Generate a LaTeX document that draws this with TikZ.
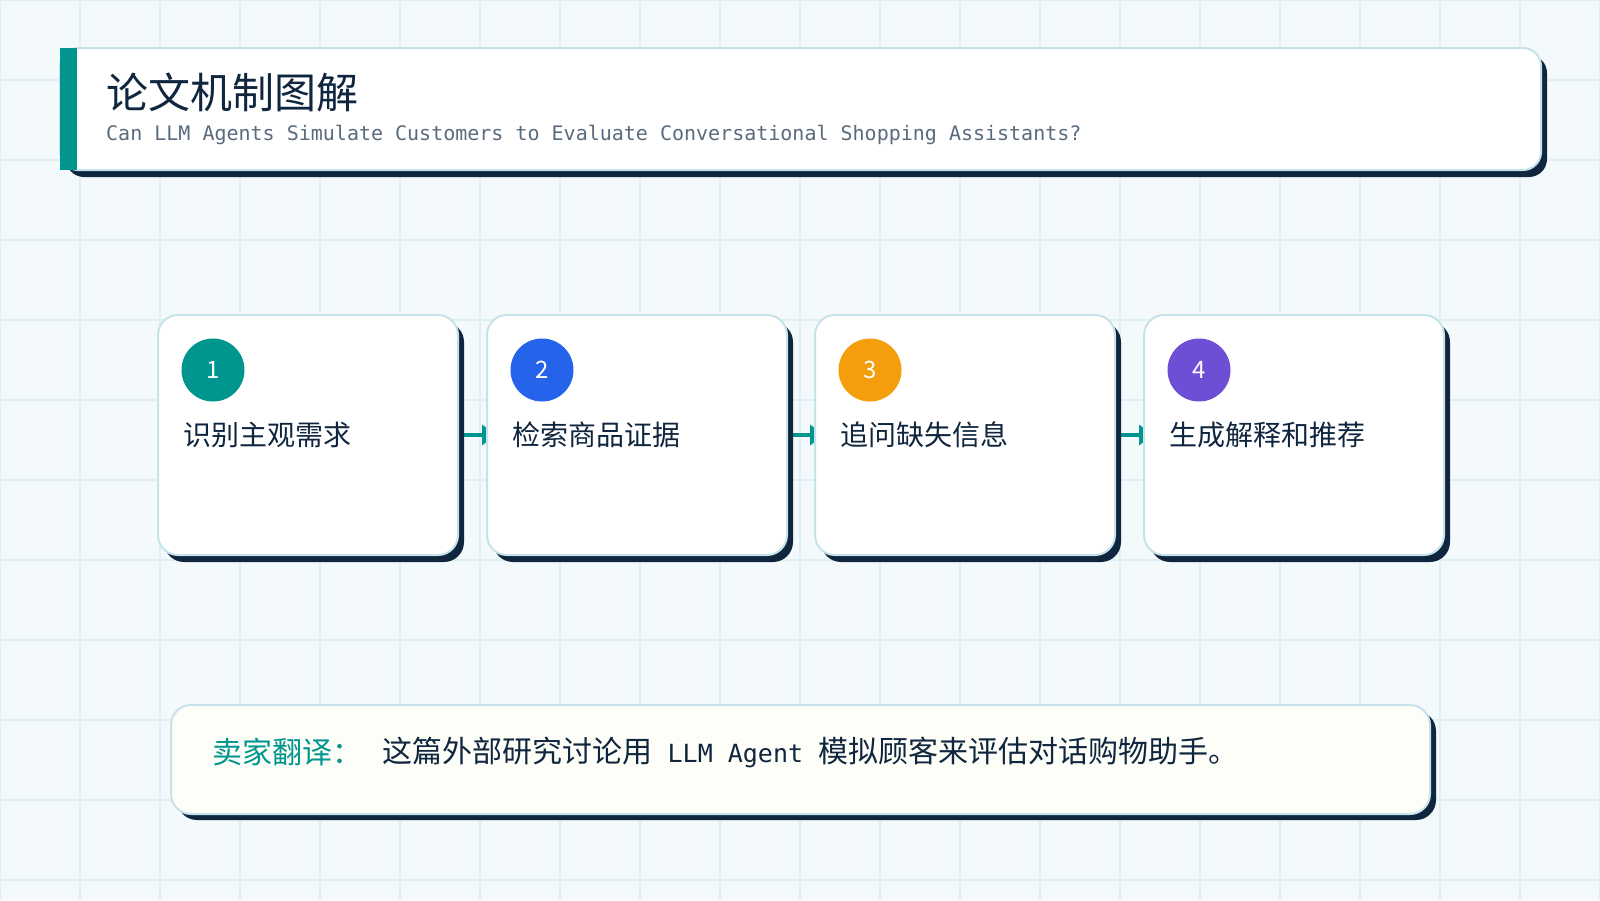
\documentclass[tikz,border=0pt]{standalone}
\usepackage{fontspec}
\setmainfont{Noto Sans CJK SC}
\newfontfamily\monofont{DejaVu Sans Mono}
\usetikzlibrary{arrows.meta, positioning, shadows, backgrounds}
\definecolor{pgbg}{HTML}{F4F9FC}
\definecolor{pggrid}{HTML}{DFF0F4}
\definecolor{pgteal}{HTML}{00968F}
\definecolor{pgnavy}{HTML}{10263F}
\definecolor{pgborder}{HTML}{C6E3EA}
\definecolor{pggray}{HTML}{5A6B7E}
\definecolor{pgblue}{HTML}{2563EB}
\definecolor{pgorange}{HTML}{F59E0B}
\definecolor{pgpurple}{HTML}{6D4FD6}
\definecolor{pgcream}{HTML}{FDFEF7}

\begin{document}
\begin{tikzpicture}[x=1pt, y=-1pt,
  headbox/.style={rectangle, draw=pgborder, line width=2pt, fill=white, rounded corners=18pt, minimum width=1481pt, minimum height=122pt, drop shadow={shadow xshift=6pt, shadow yshift=-7pt, fill=pgnavy, opacity=1}},
  card/.style={rectangle, draw=pgborder, line width=2pt, fill=white, rounded corners=20pt, minimum width=300pt, minimum height=240pt, drop shadow={shadow xshift=6pt, shadow yshift=-7pt, fill=pgnavy, opacity=1}},
  notebox/.style={rectangle, draw=pgborder, line width=2pt, fill=pgcream, rounded corners=20pt, minimum width=1259pt, minimum height=109pt, drop shadow={shadow xshift=6pt, shadow yshift=-6pt, fill=pgnavy, opacity=1}},
  numdot/.style={circle, minimum size=63pt, inner sep=0pt, text=white, font=\fontsize{24}{28}\selectfont},
  steptext/.style={anchor=west, inner sep=0pt, text=pgnavy, font=\fontsize{28}{32}\selectfont},
  conn/.style={-{Triangle[length=14pt,width=20pt]}, line width=4pt, pgteal, shorten >=-10pt},
]
  \useasboundingbox (0,0) rectangle (1600,900);

  % Background grid
  \begin{scope}[on background layer]
    \fill[pgbg] (0,0) rectangle (1600,900);
    \draw[pggrid, line width=1.5pt] (0,0) grid[step=80pt] (1600,900);
  \end{scope}

  % Header
  \node[headbox] (head) at (800.5,109) {};
  \fill[pgteal] (60,48) rectangle (77,170);
  \node[anchor=west, inner sep=0pt, text=pgnavy, font=\fontsize{42}{48}\selectfont] (title) at (106,92) {论文机制图解};
  \node[anchor=west, inner sep=0pt, text=pggray, font=\monofont\fontsize{20}{24}\selectfont] (subtitle) at (106,135) {Can LLM Agents Simulate Customers to Evaluate Conversational Shopping Assistants?};

  % Steps
  \node[card] (card1) at (308,435) {};
  \node[card] (card2) at (637,435) {};
  \node[card] (card3) at (965,435) {};
  \node[card] (card4) at (1294,435) {};

  \node[numdot, fill=pgteal] (num1) at (213,370) {1};
  \node[numdot, fill=pgblue] (num2) at (542,370) {2};
  \node[numdot, fill=pgorange] (num3) at (870,370) {3};
  \node[numdot, fill=pgpurple] (num4) at (1199,370) {4};

  \node[steptext] (txt1) at (183,435) {识别主观需求};
  \node[steptext] (txt2) at (512,435) {检索商品证据};
  \node[steptext] (txt3) at (840,435) {追问缺失信息};
  \node[steptext] (txt4) at (1169,435) {生成解释和推荐};

  \begin{scope}[on background layer]
    \draw[conn] (card1.east) -- (card2.west);
    \draw[conn] (card2.east) -- (card3.west);
    \draw[conn] (card3.east) -- (card4.west);
  \end{scope}

  % Seller note
  \node[notebox] (note) at (800.5,759.5) {};
  \node[anchor=west, inner sep=0pt, text=pgteal, font=\fontsize{30}{34}\selectfont] (notelabel) at (212,752) {卖家翻译：};
  \node[right=20pt of notelabel, inner sep=0pt, text=pgnavy, font=\fontsize{30}{34}\selectfont] (notetext) {这篇外部研究讨论用{\monofont\fontsize{25}{30}\selectfont\ LLM Agent\ }模拟顾客来评估对话购物助手。};
\end{tikzpicture}
\end{document}
